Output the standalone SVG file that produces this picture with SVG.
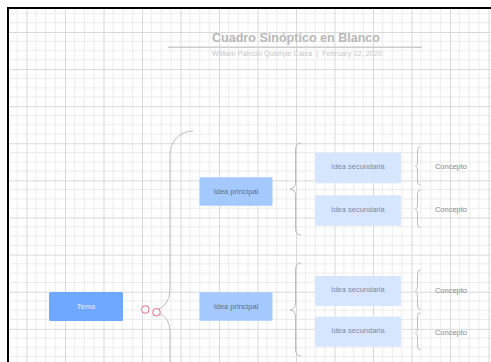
<svg xmlns="http://www.w3.org/2000/svg" width="491" height="362" viewBox="0 0 491 362">
  <defs>
    <pattern id="grid" patternUnits="userSpaceOnUse" x="26.5" y="32" width="38.5" height="37.1">
      <path d="M9.6,0V37.1M19.25,0V37.1M28.9,0V37.1M0,9.3H38.5M0,18.55H38.5M0,27.8H38.5" stroke="#ebebeb" stroke-width="1" fill="none"/>
      <path d="M0.5,0V37.1M0,0.5H38.5" stroke="#d9d9d9" stroke-width="1" fill="none"/>
    </pattern>
  </defs>
  <style>
    .brace { fill: none; stroke: #bdbdbd; stroke-width: 1; }
    .t { font-family: "Liberation Sans", Arial, sans-serif; font-size: 7.5px; text-anchor: middle; dominant-baseline: central; }
    .tema { fill: #6fa9ff; }
    .prin { fill: #a3c9ff; }
    .sec { fill: #d6e6ff; }
    .handle { fill: #ffffff; stroke: #e26a7e; stroke-width: 1; }
  </style>
  <rect x="0" y="0" width="491" height="362" fill="#ffffff"/>
  <rect x="8" y="8" width="483" height="354" fill="url(#grid)"/>
  <path d="M8,362V8H491" fill="none" stroke="#000000" stroke-width="2"/>

  <g id="title">
    <text x="296" y="42" font-family="Liberation Sans, Arial, sans-serif" font-size="12.5" font-weight="bold" fill="#b8b8b8" text-anchor="middle" textLength="168" lengthAdjust="spacingAndGlyphs">Cuadro Sinóptico en Blanco</text>
    <line x1="168" y1="47.3" x2="422" y2="47.3" stroke="#cccccc" stroke-width="1.5"/>
    <text x="297" y="56" font-family="Liberation Sans, Arial, sans-serif" font-size="6.8" fill="#c8c8c8" text-anchor="middle" textLength="170" lengthAdjust="spacingAndGlyphs" xml:space="preserve">William Patricio Quishpe Caiza  |  February 12, 2020</text>
  </g>

  <g id="connectors">
    <path class="brace" d="M193,131 A23,23 0 0 0 170,154 L170,290 Q170,306 154,311"/>
    <path class="brace" d="M157,313 Q170,316 170,332 L170,362"/>
    <path class="brace" d="M301,143 Q295.5,143 295.5,150 L295.5,183 Q295.5,188 290,189 Q295.5,190 295.5,195 L295.5,228 Q295.5,235 301,235"/>
    <path class="brace" d="M301,263 Q295.5,263 295.5,270 L295.5,304 Q295.5,309 290,310 Q295.5,311 295.5,316 L295.5,349 Q295.5,356 301,356"/>
    <path class="brace" d="M420.5,147 Q417.5,147 417.5,151 L417.5,162 Q417.5,165 415.5,166 Q417.5,167 417.5,170 L417.5,181 Q417.5,185 420.5,185"/>
    <path class="brace" d="M420.5,190 Q417.5,190 417.5,194 L417.5,205 Q417.5,208 415.5,209 Q417.5,210 417.5,213 L417.5,224 Q417.5,227.5 420.5,227.5"/>
    <path class="brace" d="M420.5,270 Q417.5,270 417.5,274 L417.5,287 Q417.5,290 415.5,291 Q417.5,292 417.5,295 L417.5,306 Q417.5,309.5 420.5,309.5"/>
    <path class="brace" d="M420.5,312.5 Q417.5,312.5 417.5,316.5 L417.5,329 Q417.5,332 415.5,333 Q417.5,334 417.5,337 L417.5,346 Q417.5,350 420.5,350"/>
    <circle class="handle" cx="145.3" cy="309.5" r="3.8"/>
    <circle class="handle" cx="156.5" cy="312.3" r="3.8"/>
  </g>

  <g id="tema">
    <rect class="tema" x="49" y="292" width="74" height="29" rx="1.5"/>
    <text class="t" x="86" y="306.5" fill="#e6efff">Tema</text>
  </g>

  <g id="principal1">
    <rect class="prin" x="199.5" y="177.3" width="73" height="28.5" rx="1.5"/>
    <text class="t" x="236" y="191.5" fill="#5f7090">Idea principal</text>
  </g>
  <g id="principal2">
    <rect class="prin" x="199.5" y="292.3" width="73" height="28.5" rx="1.5"/>
    <text class="t" x="236" y="306.5" fill="#5f7090">Idea principal</text>
  </g>

  <g id="secundaria1">
    <rect class="sec" x="315" y="152.7" width="86" height="30.5" rx="1"/>
    <text class="t" x="358" y="166.5" fill="#7d8ca2">Idea secundaria</text>
  </g>
  <g id="secundaria2">
    <rect class="sec" x="315" y="195.3" width="86" height="30.5" rx="1"/>
    <text class="t" x="358" y="209" fill="#7d8ca2">Idea secundaria</text>
  </g>
  <g id="secundaria3">
    <rect class="sec" x="315" y="276" width="86" height="30" rx="1"/>
    <text class="t" x="358" y="289.5" fill="#7d8ca2">Idea secundaria</text>
  </g>
  <g id="secundaria4">
    <rect class="sec" x="315" y="316.7" width="86" height="30" rx="1"/>
    <text class="t" x="358" y="330" fill="#7d8ca2">Idea secundaria</text>
  </g>

  <g id="concepto1"><text class="t" x="451" y="166.7" fill="#8a8a8a">Concepto</text></g>
  <g id="concepto2"><text class="t" x="451" y="209.5" fill="#8a8a8a">Concepto</text></g>
  <g id="concepto3"><text class="t" x="451" y="290.3" fill="#8a8a8a">Concepto</text></g>
  <g id="concepto4"><text class="t" x="451" y="332.3" fill="#8a8a8a">Concepto</text></g>
</svg>
